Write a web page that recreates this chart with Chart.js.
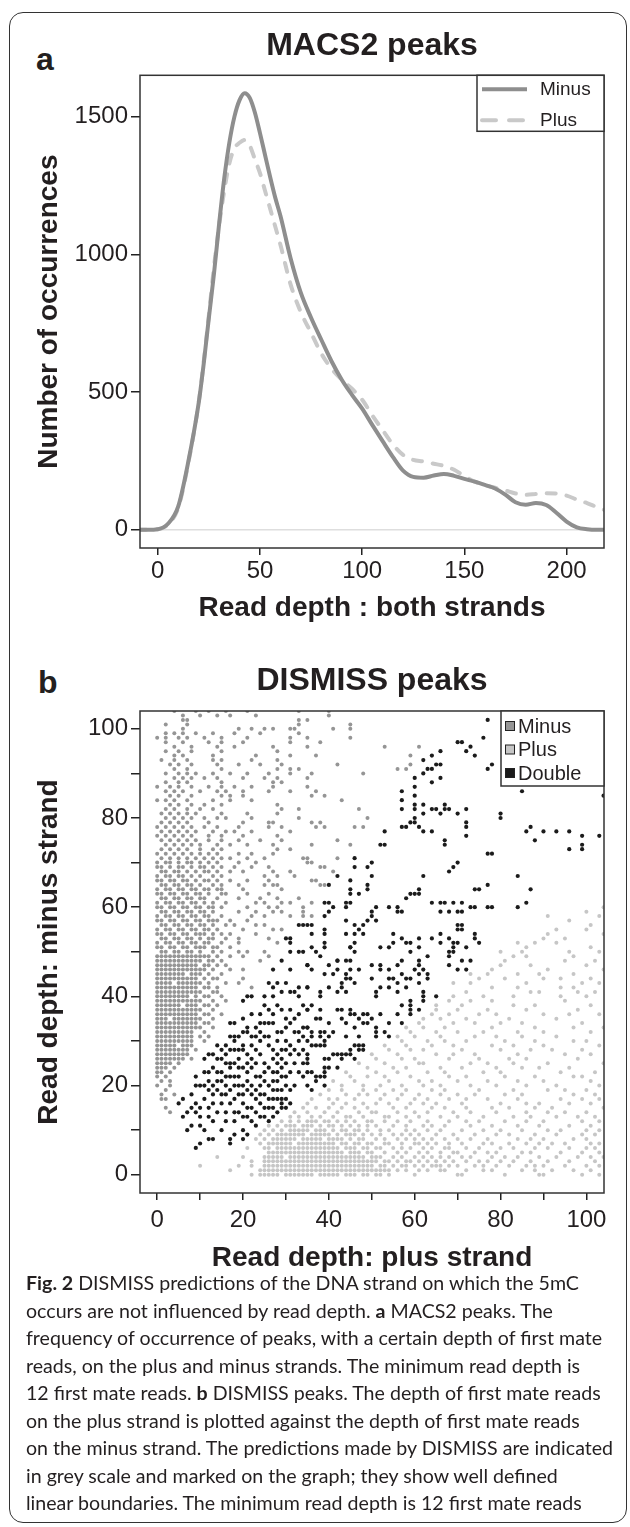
<!DOCTYPE html>
<html>
<head>
<meta charset="utf-8">
<script src="https://cdn.jsdelivr.net/npm/chart.js@4.4.1/dist/chart.umd.min.js"></script>
<style>
body { margin: 0; background: #fff; width: 630px; height: 1527px; position: relative; overflow: hidden; font-family: "Liberation Sans", Arial, sans-serif; color: #231f20; }
#frame { position: absolute; left: 9px; top: 12px; width: 616px; height: 1509px; border: 1.5px solid #333; border-radius: 14px; }
.panel { position: absolute; left: 0; width: 630px; height: 640px; }
#wrap-a { top: 0; }
#wrap-b { top: 640px; }
.letter { position: absolute; font-weight: bold; font-size: 32px; line-height: 1; }
#caption { position: absolute; left: 26px; top: 1269px; font-family: Lato, "Open Sans", sans-serif; font-size: 19.6px; line-height: 27.5px; white-space: nowrap; color: #231f20; }
</style>
</head>
<body>
<div id="frame"></div>
<div class="letter" style="left:36px; top:43px;">a</div>
<div class="letter" style="left:38px; top:666px;">b</div>
<div class="panel" id="wrap-a"><canvas id="chart-a"></canvas></div>
<div class="panel" id="wrap-b"><canvas id="chart-b"></canvas></div>
<div id="caption">
<b>Fig. 2</b> DISMISS predictions of the DNA strand on which the 5mC<br>
occurs are not influenced by read depth. <b>a</b> MACS2 peaks. The<br>
frequency of occurrence of peaks, with a certain depth of first mate<br>
reads, on the plus and minus strands. The minimum read depth is<br>
12 first mate reads. <b>b</b> DISMISS peaks. The depth of first mate reads<br>
on the plus strand is plotted against the depth of first mate reads<br>
on the minus strand. The predictions made by DISMISS are indicated<br>
in grey scale and marked on the graph; they show well defined<br>
linear boundaries. The minimum read depth is 12 first mate reads
</div>
<script>
// PANEL A - read depth density
const depthBoth = [-10, -5, 0, 5, 10, 15, 20, 22.5, 25, 27.5, 30, 32.5, 35, 37.5, 40, 42.5, 45, 47.5, 50, 52.5, 55, 57.5, 60,
	65, 70, 75, 80, 85, 90, 95, 100, 105, 110, 115, 120, 125, 130, 135, 140, 145, 150, 155, 160, 165, 170, 175, 180, 185, 190, 195, 200, 205, 210, 215, 220];
const minusCounts = [0, 0, 2, 22, 85, 250, 460, 605, 770, 930, 1110, 1275, 1405, 1500, 1560, 1585, 1568, 1515, 1440, 1360, 1280, 1205, 1140,
	985, 860, 770, 690, 612, 545, 490, 440, 380, 322, 265, 215, 192, 189, 197, 203, 196, 185, 175, 163, 150, 128, 100, 91, 97, 90, 62, 30, 9, 2, 0, 0];
const plusCounts = [0, 0, 2, 20, 80, 245, 462, 612, 780, 955, 1105, 1230, 1330, 1385, 1405, 1415, 1395, 1345, 1295, 1230, 1165, 1100, 1035,
	890, 790, 715, 640, 585, 545, 512, 472, 415, 362, 310, 272, 254, 248, 240, 232, 218, 195, 175, 162, 153, 143, 132, 127, 130, 133, 132, 124, 110, 97, 82, 68];
const occurrenceTicks = [0, 500, 1000, 1500];
const depthTicks = [0, 50, 100, 150, 200];

// PANEL B - strand depth scatter, rows of [minus depth, [plus depths]]
const minusRows = [
	[104, [4, 9, 12, 16, 21, 33, 40]], [103, [6, 10, 14, 17, 23, 40]], [102, [6, 7, 33, 35]], [101, [2, 7, 33, 45]],
	[100, [6, 19, 22, 25, 27, 31, 32, 41, 45]], [99, [2, 4, 6, 9, 13, 18, 24, 33]], [98, [0, 2, 5, 7, 11, 15, 21, 31, 35, 45]],
	[97, [2, 6, 12, 15, 20, 31, 38]], [96, [4, 8, 14, 18, 27, 35, 53, 61]], [95, [2, 5, 8, 15, 28]], [94, [4, 6, 13, 23, 31, 37, 59]],
	[93, [1, 4, 7, 13, 15, 22, 28]], [92, [3, 5, 8, 14, 19, 24, 29, 42, 59]], [91, [4, 7, 15, 28, 31, 33, 56, 58]],
	[90, [2, 5, 7, 9, 13, 17, 21, 26, 31, 36, 48]], [89, [4, 6, 8, 11, 14, 20, 25, 28, 35]], [88, [2, 5, 7, 15, 27, 29]],
	[87, [0, 3, 5, 8, 12, 15, 18, 22, 27, 35]], [86, [2, 4, 6, 10, 14, 16, 20, 26, 31, 37]], [85, [3, 5, 8, 15, 17, 20, 36, 39]],
	[84, [0, 2, 4, 7, 13, 17, 22, 43]], [83, [3, 5, 8, 11, 15, 28]], [82, [2, 4, 7, 10, 13, 29, 33, 47]], [81, [1, 3, 5, 7, 9, 15, 21, 28]],
	[80, [2, 4, 6, 8, 11, 14, 16, 22, 33, 49]], [79, [1, 3, 5, 7, 12, 20, 26, 27, 36, 38]], [78, [0, 2, 4, 6, 8, 11, 14, 19, 26, 29, 37, 39, 46, 48]],
	[77, [1, 3, 5, 7, 9, 13, 16, 18, 22, 31]], [76, [0, 2, 4, 6, 8, 12, 15, 20, 28]], [75, [1, 3, 5, 7, 9, 12, 15, 19, 24, 29, 42]],
	[74, [2, 4, 6, 8, 10, 14, 17, 21, 27, 36, 45]], [73, [1, 3, 5, 7, 10, 13, 15, 28, 31]], [72, [0, 2, 4, 6, 8, 10, 12, 14, 19, 22, 27]],
	[71, [1, 3, 5, 7, 9, 11, 13, 15, 17, 21, 25, 34, 35, 42]], [70, [0, 2, 3, 5, 7, 8, 10, 12, 14, 19, 23, 35, 36]],
	[69, [0, 1, 3, 5, 6, 8, 10, 11, 13, 15, 18, 22, 26, 38, 39]], [68, [1, 2, 4, 5, 7, 9, 11, 12, 14, 17, 20, 27, 31, 41]],
	[67, [0, 2, 3, 5, 6, 8, 10, 13, 15, 25, 28, 32]], [66, [0, 1, 3, 4, 6, 7, 9, 11, 12, 14, 17, 21, 26, 36, 37]],
	[65, [1, 2, 4, 5, 7, 8, 10, 13, 15, 19, 25, 27, 28, 38, 39]], [64, [0, 2, 3, 5, 6, 8, 9, 11, 12, 14, 15, 20, 29]],
	[63, [0, 1, 3, 4, 6, 7, 9, 10, 12, 15, 16, 21, 26]], [62, [1, 2, 4, 5, 7, 8, 10, 11, 14, 19, 24, 28, 33]],
	[61, [0, 2, 3, 5, 6, 8, 9, 11, 13, 16, 23, 25, 29, 31, 36]], [60, [0, 1, 3, 4, 6, 7, 9, 10, 12, 13, 15, 21, 26, 28, 34]],
	[59, [1, 2, 4, 5, 7, 8, 10, 11, 13, 19, 23, 27, 29, 34]], [58, [0, 2, 3, 5, 6, 8, 9, 11, 12, 15, 22, 25, 31, 34, 36]],
	[57, [0, 1, 3, 4, 6, 7, 9, 10, 12, 13, 14, 17, 21]], [56, [1, 2, 4, 5, 7, 8, 10, 11, 13, 16, 18, 23, 25]],
	[55, [0, 2, 3, 5, 6, 8, 9, 11, 12, 14, 20, 27, 29]], [54, [0, 1, 3, 4, 6, 7, 9, 10, 11, 13, 15, 17, 23]],
	[53, [1, 2, 4, 5, 7, 8, 10, 12, 13, 16, 19, 26]], [52, [0, 2, 3, 5, 6, 8, 9, 11, 12, 15, 19, 28]],
	[51, [0, 1, 3, 4, 6, 7, 9, 10, 11, 13, 14, 17]], [50, [1, 2, 4, 5, 7, 8, 10, 13, 15, 19, 21, 25]],
	[49, [0, 1, 2, 3, 4, 5, 6, 7, 8, 9, 10, 11, 12, 14, 17, 20, 26]], [48, [0, 1, 2, 3, 4, 5, 6, 7, 8, 9, 10, 12, 13, 15, 24]],
	[47, [0, 1, 2, 3, 4, 5, 6, 7, 8, 9, 11, 12, 14, 16]], [46, [0, 1, 2, 3, 4, 5, 6, 7, 8, 9, 10, 11, 13, 17, 20]],
	[45, [0, 1, 2, 3, 4, 5, 6, 8, 9, 10, 12, 15]], [44, [0, 1, 2, 3, 4, 5, 6, 7, 8, 9, 11, 13, 14, 20]],
	[43, [0, 1, 2, 3, 5, 6, 7, 8, 9, 10, 12, 16, 19]], [42, [0, 1, 2, 3, 4, 5, 6, 7, 8, 9, 11, 12, 14, 22]],
	[41, [0, 1, 2, 3, 4, 5, 6, 7, 8, 9, 10, 13, 14]], [40, [0, 1, 2, 3, 4, 5, 6, 7, 9, 11, 12, 15]],
	[39, [0, 1, 2, 3, 4, 5, 6, 7, 8, 9, 10, 13, 16]], [38, [0, 1, 2, 3, 4, 5, 7, 8, 9, 11, 12, 14]],
	[37, [0, 1, 2, 3, 4, 5, 6, 7, 8, 9, 10, 13]], [36, [0, 1, 2, 3, 4, 5, 6, 7, 8, 9, 11, 12, 15]],
	[35, [0, 1, 2, 4, 5, 6, 7, 8, 9, 10, 13]], [34, [0, 1, 2, 3, 4, 5, 6, 7, 8, 9, 11, 12]],
	[33, [0, 1, 2, 3, 4, 5, 6, 7, 8, 9, 10, 13]], [32, [0, 1, 2, 3, 4, 5, 6, 7, 8, 11]],
	[31, [0, 1, 2, 3, 4, 5, 6, 7, 8, 10, 12]], [30, [0, 1, 2, 3, 4, 5, 6, 7, 8, 11]], [29, [0, 1, 2, 3, 4, 6, 7, 8]],
	[28, [0, 1, 2, 3, 4, 5, 6, 7, 9]], [27, [0, 1, 2, 3, 4, 5, 6, 7]], [26, [0, 1, 2, 3, 4, 5, 6, 8]], [25, [0, 1, 2, 3, 5]],
	[24, [0, 1, 2, 4]], [23, [0, 1, 3]], [22, [0, 2]], [21, [1, 3]], [20, [0, 3]], [19, [2]], [18, [1, 4]], [17, [1, 2]], [15, [2]], [14, [3]]
];
const plusRows = [
	[0, [22, 24, 25, 26, 27, 28, 30, 31, 32, 33, 34, 35, 36, 38, 39, 40, 41, 42, 44, 45, 46, 48, 49, 51, 52, 54, 60, 70, 71, 81, 89, 90, 99, 103]],
	[1, [17, 24, 25, 26, 27, 28, 29, 30, 31, 32, 33, 34, 35, 36, 37, 38, 39, 40, 41, 42, 43, 44, 45, 46, 47, 48, 49, 50, 51, 52, 53, 54, 56, 58, 61, 63, 66, 67, 72, 76, 78, 85, 88, 92, 97, 101]],
	[2, [10, 19, 22, 25, 26, 27, 28, 29, 30, 31, 32, 33, 34, 35, 36, 37, 38, 39, 40, 41, 42, 43, 44, 45, 46, 47, 48, 49, 50, 52, 53, 55, 57, 58, 60, 62, 64, 65, 66, 68, 70, 74, 76, 79, 82, 86, 88, 90, 95, 100, 103]],
	[3, [22, 25, 26, 27, 28, 29, 30, 31, 32, 33, 34, 35, 36, 37, 38, 39, 40, 41, 42, 43, 44, 45, 46, 47, 48, 49, 50, 51, 53, 54, 56, 58, 59, 61, 63, 65, 67, 69, 72, 75, 77, 80, 83, 87, 91, 96, 102]],
	[4, [14, 20, 25, 26, 27, 28, 29, 31, 32, 33, 34, 35, 36, 37, 38, 39, 40, 41, 42, 43, 44, 45, 46, 47, 48, 50, 51, 52, 55, 57, 60, 62, 64, 66, 68, 71, 73, 78, 81, 84, 89, 93, 98, 101, 104]],
	[5, [26, 27, 28, 29, 30, 31, 32, 33, 34, 35, 36, 37, 38, 39, 40, 41, 42, 43, 45, 46, 47, 49, 50, 53, 56, 58, 61, 63, 66, 69, 70, 74, 77, 79, 85, 87, 94, 99, 103]],
	[6, [21, 25, 26, 28, 29, 30, 31, 32, 33, 34, 35, 36, 37, 38, 39, 40, 41, 42, 44, 45, 46, 48, 49, 51, 52, 55, 57, 59, 62, 64, 67, 68, 72, 75, 80, 83, 88, 91, 96, 100, 102]],
	[7, [24, 26, 27, 28, 29, 30, 31, 33, 34, 35, 36, 37, 38, 39, 40, 41, 43, 44, 46, 47, 49, 50, 53, 54, 57, 60, 61, 63, 65, 68, 71, 76, 78, 82, 86, 89, 92, 95, 101, 103]],
	[8, [23, 25, 27, 28, 29, 30, 31, 32, 34, 35, 36, 37, 38, 40, 41, 42, 43, 45, 47, 48, 51, 53, 56, 58, 60, 62, 64, 67, 70, 73, 77, 84, 87, 90, 97, 100]],
	[9, [24, 26, 28, 29, 30, 31, 32, 33, 34, 36, 37, 38, 39, 40, 42, 44, 45, 46, 48, 50, 52, 55, 57, 59, 61, 65, 69, 74, 79, 82, 88, 93, 99, 102]],
	[10, [25, 27, 29, 31, 32, 33, 34, 35, 37, 38, 39, 41, 43, 44, 46, 47, 49, 52, 54, 58, 60, 63, 66, 71, 76, 80, 85, 91, 94, 100, 103]],
	[11, [26, 28, 30, 31, 32, 34, 35, 36, 38, 40, 41, 43, 45, 47, 49, 51, 55, 58, 62, 64, 67, 73, 78, 84, 89, 96, 101]],
	[12, [29, 31, 33, 35, 36, 37, 39, 40, 42, 44, 46, 49, 50, 53, 56, 59, 63, 68, 72, 75, 81, 86, 90, 99, 103]],
	[13, [31, 33, 36, 38, 41, 44, 45, 48, 53, 54, 58, 61, 66, 70, 76, 83, 87, 93, 98, 102]],
	[14, [32, 35, 39, 42, 47, 50, 51, 56, 60, 63, 69, 73, 79, 86, 91, 95, 100]],
	[15, [34, 37, 40, 43, 46, 49, 55, 58, 64, 67, 72, 78, 82, 88, 92, 104]],
	[16, [35, 41, 44, 48, 51, 54, 59, 62, 65, 71, 80, 86, 89, 96, 101]],
	[17, [36, 40, 42, 46, 52, 56, 60, 63, 68, 72, 77, 84, 94, 99, 103]],
	[18, [38, 44, 47, 49, 53, 57, 61, 66, 70, 74, 81, 85, 97, 102]],
	[19, [40, 43, 48, 51, 55, 58, 64, 67, 75, 83, 91, 95, 100]],
	[20, [43, 48, 52, 57, 62, 66, 73, 79, 86, 93, 103]],
	[21, [41, 46, 54, 61, 64, 70, 77, 84, 90, 101]],
	[22, [45, 49, 53, 59, 68, 72, 81, 88, 97, 99]],
	[23, [44, 51, 56, 63, 67, 76, 80, 94, 102]],
	[24, [49, 55, 58, 66, 71, 79, 85, 89, 96]],
	[25, [47, 53, 61, 62, 73, 77, 83, 91, 104]],
	[26, [51, 57, 60, 68, 75, 82, 86, 98]],
	[27, [50, 56, 65, 69, 74, 84, 95, 101]],
	[28, [54, 59, 62, 71, 80, 87, 92, 99]],
	[29, [53, 58, 64, 69, 78, 83, 90, 103]],
	[30, [57, 63, 67, 72, 81, 88, 97, 100]],
	[31, [56, 60, 66, 74, 79, 85, 93]],
	[32, [59, 65, 70, 76, 84, 90, 101]],
	[33, [58, 62, 67, 78, 88, 97, 104]],
	[34, [61, 69, 74, 80, 85, 99]],
	[35, [62, 66, 72, 82, 93]],
	[36, [64, 68, 75, 79, 90, 96, 103]],
	[37, [65, 70, 77, 86, 98]],
	[38, [65, 71, 83, 88, 101]],
	[39, [68, 73, 78, 95]],
	[40, [69, 76, 83, 94, 100]],
	[41, [72, 87, 89, 98, 102]],
	[42, [78, 84, 94, 97]],
	[43, [69, 73, 86, 99, 103]],
	[44, [75, 81, 90, 94, 101]],
	[45, [73, 77, 84, 89, 97]],
	[46, [78, 91, 104]],
	[47, [80, 87, 100]],
	[48, [81, 95, 102]],
	[49, [83, 86, 97]],
	[50, [80, 85, 96, 103]],
	[51, [86, 101]],
	[52, [84, 88, 93]],
	[53, [90, 95]],
	[54, [91, 104]],
	[55, [93, 100]],
	[56, [101]],
	[57, [96]],
	[58, [91, 103]],
	[59, [100]],
	[60, [104]]
];
const doublePairs = [
	[29, 48], [27, 46], [31, 46], [33, 50], [35, 47], [26, 43], [27, 42], [28, 43], [30, 43], [31, 41], [33, 42], [35, 42], [32, 41], [33, 40],
	[29, 41], [22, 40], [21, 40], [20, 39], [25, 40], [27, 40], [26, 37], [29, 37], [31, 37], [34, 38], [35, 37], [22, 36], [20, 35], [18, 34],
	[17, 34], [24, 34], [25, 34], [27, 34], [30, 35], [30, 33], [31, 34], [32, 32], [33, 32], [34, 33], [35, 33], [29, 32], [28, 32], [21, 33],
	[21, 32], [23, 31], [24, 30], [26, 29], [28, 30], [29, 28], [30, 28], [31, 27], [33, 27], [34, 25], [35, 26], [14, 29], [15, 28], [17, 31],
	[18, 31], [19, 31], [20, 29], [20, 28], [18, 28], [17, 28], [12, 27], [11, 26], [13, 27], [15, 26], [16, 25], [17, 25], [18, 25], [19, 26],
	[20, 24], [17, 24], [15, 23], [16, 22], [18, 22], [19, 22], [21, 23], [22, 24], [23, 22], [24, 22], [25, 23], [27, 23], [28, 23], [29, 22],
	[30, 22], [33, 23], [34, 22], [35, 20], [32, 20], [31, 19], [29, 19], [28, 19], [27, 17], [29, 17], [30, 17], [31, 16], [30, 15], [29, 16],
	[26, 15], [25, 15], [24, 16], [23, 17], [22, 18], [21, 19], [20, 18], [19, 18], [18, 17], [16, 18], [15, 18], [14, 19], [13, 18], [12, 19],
	[11, 20], [10, 20], [9, 20], [13, 20], [15, 21], [16, 20], [18, 20], [9, 22], [11, 23], [12, 23], [14, 23], [8, 18], [9, 16], [6, 17],
	[7, 14], [5, 16], [10, 13], [12, 15], [13, 12], [14, 14], [15, 16], [16, 14], [18, 14], [20, 13], [21, 13], [22, 12], [20, 10], [21, 9],
	[20, 8], [18, 9], [17, 8], [17, 7], [8, 11], [10, 11], [7, 10], [12, 8], [13, 8], [10, 7], [9, 6], [25, 13], [27, 15], [27, 13], [28, 14],
	[29, 15], [11, 17], [12, 21], [13, 24], [14, 26], [14, 21], [16, 27], [17, 19], [17, 22], [19, 20], [19, 24], [20, 16], [21, 15], [21, 21],
	[22, 20], [22, 26], [23, 14], [23, 19], [23, 25], [24, 18], [24, 20], [24, 27], [25, 18], [25, 21], [25, 25], [26, 17], [26, 20], [26, 24],
	[26, 31], [27, 19], [27, 21], [27, 26], [27, 28], [28, 17], [28, 21], [28, 25], [28, 27], [29, 24], [29, 26], [30, 20], [30, 25], [30, 30],
	[31, 23], [31, 29], [32, 25], [32, 28], [32, 35], [33, 30], [33, 36], [34, 28], [34, 31], [19, 28], [21, 27], [22, 29], [23, 28], [23, 33],
	[24, 36], [25, 31], [25, 38], [26, 34], [27, 36], [28, 38], [19, 14], [18, 12], [16, 12], [15, 10], [11, 10], [13, 16], [10, 15], [12, 13],
	[9, 14], [8, 15], [6, 13], [24, 13], [26, 12], [22, 15], [23, 11], [17, 16], [20, 20], [21, 25], [16, 29], [18, 30], [20, 32], [22, 31], [24, 32],
	[36, 51], [39, 51], [45, 51], [54, 51], [59, 50], [61, 51], [68, 50], [69, 50], [35, 47], [36, 46], [38, 49], [40, 47], [42, 48], [45, 48],
	[39, 45], [41, 45], [42, 46], [45, 46], [52, 47], [52, 46], [57, 48], [54, 44], [55, 44], [59, 44], [57, 45], [62, 46], [63, 45], [63, 44],
	[61, 43], [63, 49], [68, 49], [70, 46], [72, 46], [68, 47], [44, 44], [46, 43], [43, 43], [43, 42], [44, 41], [42, 41], [40, 42], [38, 41],
	[38, 40], [35, 42], [50, 44], [51, 41], [51, 40], [54, 42], [56, 41], [62, 41], [62, 40], [62, 39], [65, 40], [59, 39], [59, 38], [57, 38],
	[61, 37], [59, 37], [52, 36], [56, 36], [59, 36], [36, 38], [35, 37], [38, 37], [42, 37], [43, 37], [45, 37], [46, 36], [48, 36], [49, 36],
	[50, 35], [37, 35], [38, 35], [43, 35], [45, 36], [47, 35], [49, 34], [48, 34], [44, 34], [46, 33], [54, 34], [57, 34], [40, 34], [35, 33],
	[51, 33], [53, 32], [51, 32], [51, 31], [54, 31], [36, 32], [38, 32], [39, 32], [36, 31], [35, 30], [38, 31], [40, 31], [41, 32], [39, 30],
	[44, 31], [47, 31], [36, 29], [37, 29], [38, 29], [39, 29], [46, 29], [47, 29], [48, 29], [45, 28], [47, 28], [48, 28], [41, 27], [42, 27],
	[43, 27], [44, 27], [45, 27], [35, 27], [39, 26], [40, 26], [43, 26], [46, 26], [35, 25], [39, 24], [39, 23], [40, 24], [42, 24], [36, 23],
	[37, 22], [38, 22], [39, 22], [37, 21], [39, 20], [36, 19], [35, 23],
	[77, 102], [76, 98], [70, 97], [72, 95], [74, 94], [62, 93], [64, 94], [63, 91], [64, 91], [77, 91], [60, 89], [64, 88], [57, 86], [57, 84],
	[57, 82], [60, 82], [65, 82], [66, 81], [67, 82], [70, 81], [62, 81], [60, 80], [60, 79], [72, 79], [80, 80], [58, 78], [53, 77], [64, 77],
	[72, 76], [52, 74], [67, 74], [77, 72], [78, 72], [46, 71], [46, 69], [49, 69], [50, 70], [42, 67], [69, 69], [68, 68], [62, 67], [77, 65],
	[74, 64], [40, 65], [45, 64], [45, 63], [49, 65], [61, 64], [59, 63], [58, 62], [39, 61], [40, 61], [41, 60], [40, 59], [44, 61], [51, 60],
	[54, 60], [56, 59], [64, 61], [67, 61], [69, 61], [66, 59], [70, 59], [73, 60], [77, 60], [36, 56], [39, 55], [44, 54], [46, 56], [47, 55],
	[48, 56], [49, 57], [50, 58], [51, 57], [46, 54], [48, 54], [46, 52], [45, 51], [55, 52], [58, 52], [64, 53], [66, 52], [70, 56], [70, 55],
	[74, 53], [75, 52], [34, 56], [31, 53], [71, 97], [73, 96], [66, 95], [65, 92], [66, 92], [62, 90], [66, 89], [60, 87], [60, 85], [60, 83],
	[62, 83], [64, 82], [67, 83], [68, 82], [72, 82], [80, 81], [78, 92], [85, 86], [84, 88], [101, 93], [100, 101], [104, 97], [104, 85],
	[57, 78], [59, 79], [72, 78], [67, 75], [86, 77], [87, 78], [88, 75], [90, 77], [93, 77], [96, 77], [99, 76], [96, 73], [99, 74], [99, 73],
	[103, 76], [84, 67], [87, 64], [86, 61], [84, 60], [75, 64], [78, 60], [74, 60], [70, 70], [71, 59], [71, 56], [71, 55], [66, 61], [68, 59],
	[71, 61], [61, 63], [60, 63], [56, 60], [57, 59], [66, 54], [68, 53], [74, 54], [69, 52], [70, 52], [69, 51], [72, 51], [71, 48], [73, 48],
	[57, 53], [61, 53], [59, 52], [55, 54], [52, 51], [61, 48], [61, 47], [61, 45], [60, 46], [58, 44], [58, 42], [56, 47], [54, 46], [56, 43],
	[52, 42], [50, 47], [47, 46], [45, 44], [44, 45], [46, 50], [44, 48], [42, 48], [39, 52], [37, 50], [34, 50], [31, 52], [31, 50], [35, 56],
	[36, 54], [39, 54], [44, 57], [44, 60], [45, 61], [47, 63], [49, 64], [50, 67], [50, 59], [30, 53], [33, 56], [39, 58], [45, 66], [53, 74],
	[61, 78], [62, 77]
];
const strandTicks = [0, 10, 20, 30, 40, 50, 60, 70, 80, 90, 100];
const strandLabelStep = 20;

const ink = "#231f20";
Chart.defaults.font.family = '"Liberation Sans", Arial, sans-serif';
Chart.defaults.color = ink;

function rows_to_points(rows) {
	const pts = [];
	rows.forEach(([y, xs]) => xs.forEach(x => pts.push({ x: x, y: y })));
	return pts;
}

const frame_plugin = {
	id: "frame",
	afterDatasetsDraw(chart) {
		const { ctx, chartArea: a } = chart;
		ctx.save();
		ctx.strokeStyle = "#333";
		ctx.lineWidth = 1.5;
		ctx.strokeRect(a.left, a.top, a.right - a.left, a.bottom - a.top);
		ctx.restore();
	}
};

// legend box in the top right corner of the plot
const line_legend = {
	id: "lineLegend",
	afterDraw(chart) {
		const { ctx, chartArea: a } = chart;
		const w = 127, h = 56;
		const left = a.right - w, top = a.top;
		ctx.save();
		ctx.fillStyle = "#fff";
		ctx.fillRect(left, top, w, h);
		ctx.strokeStyle = "#333";
		ctx.lineWidth = 1.5;
		ctx.strokeRect(left, top, w, h);
		chart.data.datasets.forEach((ds, i) => {
			const y = top + 14 + i * 31;
			ctx.beginPath();
			ctx.setLineDash(ds.borderDash ? [14, 13] : []);
			ctx.lineCap = ds.borderCapStyle || "butt";
			ctx.strokeStyle = ds.borderColor;
			ctx.lineWidth = ds.borderWidth;
			ctx.moveTo(left + 5, y);
			ctx.lineTo(left + 50, y);
			ctx.stroke();
			ctx.setLineDash([]);
			ctx.fillStyle = ink;
			ctx.font = '19px "Liberation Sans"';
			ctx.textBaseline = "middle";
			ctx.fillText(ds.label, left + 63, y);
		});
		ctx.restore();
	}
};

const box_legend = {
	id: "boxLegend",
	afterDraw(chart) {
		const { ctx, chartArea: a } = chart;
		const w = 103, h = 75;
		const left = a.right - w, top = a.top;
		ctx.save();
		ctx.fillStyle = "#fff";
		ctx.fillRect(left, top, w, h);
		ctx.strokeStyle = "#333";
		ctx.lineWidth = 1.5;
		ctx.strokeRect(left, top, w, h);
		chart.data.datasets.forEach((ds, i) => {
			const y = top + 15 + i * 23.5;
			ctx.fillStyle = ds.backgroundColor;
			ctx.fillRect(left + 4.5, y - 4.5, 9, 9);
			ctx.lineWidth = 1;
			ctx.strokeStyle = "#222";
			ctx.strokeRect(left + 4.5, y - 4.5, 9, 9);
			ctx.fillStyle = ink;
			ctx.font = '20px "Liberation Sans"';
			ctx.textBaseline = "middle";
			ctx.fillText(ds.label, left + 17, y + 1);
		});
		ctx.restore();
	}
};

const tick_font = { size: 24 };
const title_font = { size: 28, weight: "bold" };

// CHART A
new Chart(document.getElementById("chart-a"), {
	type: "line",
	data: {
		datasets: [{
			label: "Minus",
			data: depthBoth.map((x, i) => ({ x: x, y: minusCounts[i] })),
			borderColor: "#8e8e8e",
			borderWidth: 4,
			pointRadius: 0,
			cubicInterpolationMode: "monotone"
		}, {
			label: "Plus",
			data: depthBoth.map((x, i) => ({ x: x, y: plusCounts[i] })),
			borderColor: "#c9c9c9",
			borderWidth: 4,
			borderDash: [9, 11],
			borderCapStyle: "round",
			pointRadius: 0,
			cubicInterpolationMode: "monotone"
		}]
	},
	options: {
		responsive: true,
		maintainAspectRatio: false,
		animation: false,
		layout: { padding: { left: 0, right: 26, top: 0, bottom: 0 } },
		scales: {
			x: {
				type: "linear",
				min: -8.7,
				max: 218.3,
				afterBuildTicks: s => { s.ticks = depthTicks.map(v => ({ value: v })); },
				afterFit: s => { s.height = 92; },
				ticks: { font: tick_font, color: ink, padding: 2, maxRotation: 0, callback: v => String(v) },
				grid: { drawOnChartArea: false, tickColor: "#222", tickLength: 7, lineWidth: 1.5 },
				border: { display: false },
				title: { display: true, text: "Read depth : both strands", font: title_font, color: ink, padding: { top: 0, bottom: 15 } }
			},
			y: {
				type: "linear",
				min: -66,
				max: 1650,
				afterBuildTicks: s => { s.ticks = occurrenceTicks.map(v => ({ value: v })); },
				afterFit: s => { s.width = 140; },
				ticks: { font: tick_font, color: ink, padding: 3, callback: v => String(v) },
				grid: {
					color: c => (c.tick && c.tick.value === 0 ? "#dedede" : "rgba(0,0,0,0)"),
					tickColor: "#222",
					tickLength: 9,
					lineWidth: 1.5
				},
				border: { display: false },
				title: { display: true, text: "Number of occurrences", font: title_font, color: ink, padding: { top: 32, bottom: 0 } }
			}
		},
		plugins: {
			legend: { display: false },
			tooltip: { enabled: false },
			title: { display: true, text: "MACS2 peaks", fullSize: false, font: { size: 32, weight: "bold" }, color: ink, padding: { top: 26.7, bottom: 10.2 } }
		}
	},
	plugins: [frame_plugin, line_legend]
});

// CHART B
const strand_scale = (title) => ({
	type: "linear",
	min: -4,
	max: 104.1,
	afterBuildTicks: s => { s.ticks = strandTicks.map(v => ({ value: v })); },
	ticks: { font: tick_font, color: ink, maxRotation: 0, autoSkip: false, callback: v => (v % strandLabelStep === 0 ? String(v) : "") },
	grid: { drawOnChartArea: false, tickColor: "#222", tickLength: 7, lineWidth: 1.5 },
	border: { display: false },
	title: { display: true, text: title, font: title_font, color: ink }
});

const scale_x_b = strand_scale("Read depth: plus strand");
scale_x_b.afterFit = s => { s.height = 87; };
scale_x_b.ticks.padding = 6;
scale_x_b.title.padding = { top: 0, bottom: 5 };
const scale_y_b = strand_scale("Read depth: minus strand");
scale_y_b.min = -4.1;
scale_y_b.max = 104;
scale_y_b.afterFit = s => { s.width = 140; };
scale_y_b.ticks.padding = 3;
scale_y_b.grid.tickLength = 9;
scale_y_b.title.padding = { top: 32, bottom: 0 };

new Chart(document.getElementById("chart-b"), {
	type: "scatter",
	data: {
		datasets: [{
			label: "Minus",
			data: rows_to_points(minusRows),
			backgroundColor: "#959595",
			pointRadius: 2,
			pointBorderWidth: 0
		}, {
			label: "Plus",
			data: rows_to_points(plusRows),
			backgroundColor: "#c6c6c6",
			pointRadius: 2,
			pointBorderWidth: 0
		}, {
			label: "Double",
			data: doublePairs.map(([x, y]) => ({ x: x, y: y })),
			backgroundColor: "#1b1b1b",
			pointRadius: 2.1,
			pointBorderWidth: 0
		}]
	},
	options: {
		responsive: true,
		maintainAspectRatio: false,
		animation: false,
		layout: { padding: { left: 0, right: 26, top: 0, bottom: 0 } },
		scales: { x: scale_x_b, y: scale_y_b },
		plugins: {
			legend: { display: false },
			tooltip: { enabled: false },
			title: { display: true, text: "DISMISS peaks", fullSize: false, font: { size: 32, weight: "bold" }, color: ink, padding: { top: 22.4, bottom: 10.2 } }
		}
	},
	plugins: [frame_plugin, box_legend]
});
</script>
</body>
</html>
